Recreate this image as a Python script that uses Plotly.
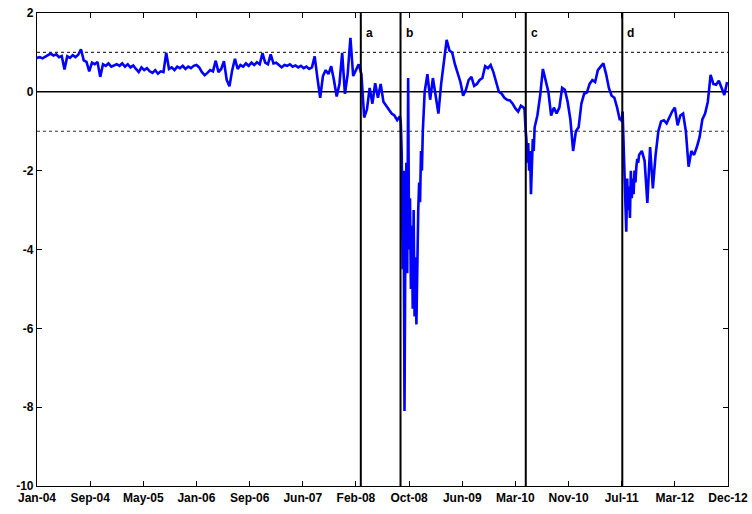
import numpy as np
import plotly.graph_objects as go

# x axis: trading-day index, one tick every 174 days
tick_labels = ["Jan-04", "Sep-04", "May-05", "Jan-06", "Sep-06", "Jun-07", "Feb-08",
               "Oct-08", "Jun-09", "Mar-10", "Nov-10", "Jul-11", "Mar-12", "Dec-12"]
tick_step = 174
y_ticks = [2, 0, -2, -4, -6, -8, -10]

# event markers (trading-day index)
event_names = ["a", "b", "c", "d"]
event_days = [1060, 1190, 1600, 1916]

# series sampled every 9 trading days, starting at day 0 (Jan-04) up to b
seg1_start, seg1_step = 0, 9
seg1_vals = [
    0.86, 0.88, 0.85, 0.90, 0.93, 0.97, 0.92, 0.95, 0.88, 0.91,
    0.57, 0.90, 0.86, 0.93, 0.88, 0.94, 1.08, 0.80, 0.76, 0.52,
    0.74, 0.70, 0.76, 0.38, 0.70, 0.66, 0.72, 0.64, 0.68, 0.70,
    0.66, 0.72, 0.64, 0.70, 0.62, 0.67, 0.58, 0.50, 0.62, 0.55,
    0.60, 0.52, 0.48, 0.55, 0.46, 0.52, 0.50, 0.99, 0.58, 0.62,
    0.55, 0.64, 0.60, 0.66, 0.58, 0.64, 0.60, 0.66, 0.68, 0.62,
    0.50, 0.42, 0.48, 0.55, 0.52, 0.79, 0.50, 0.58, 0.78, 0.30,
    0.14, 0.55, 0.84, 0.58, 0.68, 0.64, 0.72, 0.66, 0.74, 0.68,
    0.75, 0.70, 0.98, 0.74, 0.70, 0.95, 0.72, 0.74, 0.68, 0.62,
    0.68, 0.66, 0.70, 0.64, 0.67, 0.62, 0.66, 0.60, 0.64, 0.58,
    0.62, 0.90, 0.35, -0.15, 0.40, 0.55, 0.45, 0.65, 0.30, -0.12,
    0.20, 0.99, -0.05, 0.45, 1.37, 0.40, 0.55, 0.70, 0.45, -0.65,
    -0.45, 0.10, -0.30, 0.22, -0.15, 0.20, -0.25, -0.35, -0.45, -0.55,
    -0.60, -0.72, -0.62,
]

# crash after b, every 3 trading days
seg2_start, seg2_step = 1191, 3
seg2_vals = [
    -0.8, -1.6, -4.5, -2.0, -8.1, -3.5, -1.8, -4.6, 0.35, -4.0,
    -2.7, -5.0, -3.4, -5.5, -3.0, -5.7, -4.2, -5.9, -3.5, -3.0,
    -2.3, -2.8, -1.5, -2.0, -1.0, -0.5,
]

# recovery up to c, every 9 trading days
seg3_start, seg3_step = 1269, 9
seg3_vals = [
    0.0, 0.45, -0.2, 0.35, -0.1, -0.55, 0.2, 0.75, 1.32, 1.05,
    1.0, 0.7, 0.45, 0.25, -0.1, 0.05, 0.3, 0.38, 0.15, 0.2,
    0.3, 0.35, 0.65, 0.6, 0.68, 0.5, 0.25, 0.0, -0.05, -0.15,
    -0.2, -0.22, -0.3, -0.42, -0.5, -0.35, -0.4,
]

# drop at c, every 3 trading days
seg4_start, seg4_step = 1596, 3
seg4_vals = [-0.45, -0.9, -1.2, -1.8, -1.3, -2.0, -1.5, -2.6, -1.9, -1.2, -1.5]

# c to d, every 9 trading days
seg5_start, seg5_step = 1629, 9
seg5_vals = [
    -0.9, -0.6, -0.1, 0.58, 0.3, 0.0, -0.6, -0.4, -0.55, -0.4,
    0.1, 0.05, -0.25, -0.7, -1.5, -1.0, -0.9, -0.3, -0.05, -0.02,
    0.2, 0.3, 0.25, 0.55, 0.64, 0.72, 0.45, 0.1, -0.1, -0.15,
    -0.4, -0.72,
]

# drop at d, every 3 trading days
seg6_start, seg6_step = 1911, 3
seg6_vals = [
    -0.65, -0.75, -0.5, -1.4, -1.9, -2.6, -3.55, -2.2, -3.0, -2.4,
    -3.2, -2.0, -2.7, -2.2, -2.6, -2.0, -2.3, -1.9, -1.7, -1.8,
]

# d to end, every 9 trading days
seg7_start, seg7_step = 1971, 9
seg7_vals = [
    -1.6, -1.5, -1.75, -2.82, -1.4, -2.45, -1.6, -1.0, -0.75, -0.72,
    -0.8, -0.65, -0.5, -0.4, -0.85, -0.6, -0.55, -1.0, -1.9, -1.5,
    -1.6, -1.4, -1.15, -0.7, -0.55, -0.25, 0.43, 0.2, 0.18, 0.28,
    0.1, -0.08, 0.25,
]

segments = [
    (seg1_start, seg1_step, seg1_vals),
    (seg2_start, seg2_step, seg2_vals),
    (seg3_start, seg3_step, seg3_vals),
    (seg4_start, seg4_step, seg4_vals),
    (seg5_start, seg5_step, seg5_vals),
    (seg6_start, seg6_step, seg6_vals),
    (seg7_start, seg7_step, seg7_vals),
]
xs, ys = [], []
for start, step, vals in segments:
    xs.extend(start + step * np.arange(len(vals)))
    ys.extend(vals)

x_max = tick_step * (len(tick_labels) - 1)

fig = go.Figure()
fig.add_trace(go.Scatter(x=xs, y=ys, mode="lines",
                         line=dict(color="#0000FF", width=2.6), hoverinfo="skip"))

# reference lines
for yv, dash, w in [(1, "dash", 1.2), (-1, "dash", 1.2), (0, "solid", 1.5)]:
    fig.add_shape(type="line", xref="x", yref="y", x0=0, x1=x_max, y0=yv, y1=yv,
                  line=dict(color="#333333" if dash == "dash" else "black", width=w,
                            dash="3px,3px" if dash == "dash" else "solid"),
                  layer="below")

for name, d in zip(event_names, event_days):
    fig.add_shape(type="line", xref="x", yref="paper", x0=d, x1=d, y0=0, y1=1,
                  line=dict(color="black", width=2), layer="above")
    fig.add_annotation(x=d, y=1.5, xref="x", yref="y", text="<b>%s</b>" % name,
                       showarrow=False, xanchor="left", xshift=3,
                       font=dict(family="Liberation Sans, Arial", size=12, color="black"))

fig.update_layout(
    width=752, height=514,
    margin=dict(l=37, r=24, t=13, b=28, autoexpand=False),
    paper_bgcolor="white", plot_bgcolor="white",
    showlegend=False,
    font=dict(family="Liberation Sans, Arial", size=12, color="black"),
)
fig.update_xaxes(
    range=[0, x_max], tickvals=[i * tick_step for i in range(len(tick_labels))],
    ticktext=["<b>%s</b>" % t for t in tick_labels],
    ticks="inside", ticklen=5, tickcolor="black", tickwidth=1,
    showline=True, linecolor="black", linewidth=1.2, mirror="ticks",
    showgrid=False, zeroline=False, tickfont=dict(size=12),
    automargin=False,
)
fig.update_yaxes(
    range=[-10, 2], tickvals=y_ticks, ticktext=["<b>%d</b>" % v for v in y_ticks],
    ticks="inside", ticklen=5, tickcolor="black", tickwidth=1,
    showline=True, linecolor="black", linewidth=1.2, mirror="ticks",
    showgrid=False, zeroline=False, tickfont=dict(size=12),
    automargin=False,
)

fig.write_html("out.html", config={"displayModeBar": False},
               post_script="document.body.style.margin='0px';document.body.style.overflow='hidden';")
